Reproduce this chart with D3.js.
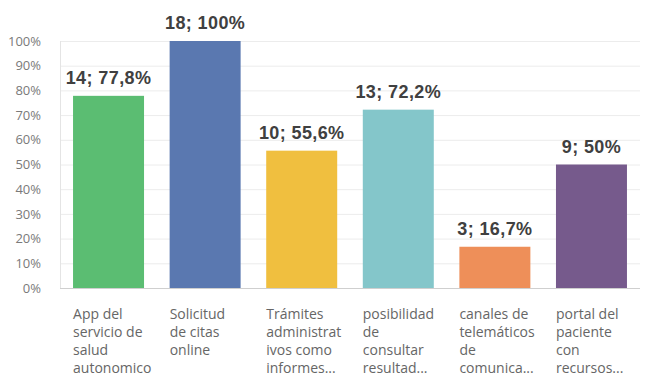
<!DOCTYPE html>
<meta charset="utf-8">
<head>
  <script src="https://d3js.org/d3.v7.min.js"></script>
  <style>
    body { margin: 0; background: #fff; }
    .tick text { font-family: "Open Sans", sans-serif; }
  </style>
</head>
<body>
<div id="chart"></div>
<script>
  // data
  var categories = ["app", "citas", "tramites", "resultados", "canales", "portal"];
  var labelLines = [
    ["App del", "servicio de", "salud", "autonomico"],
    ["Solicitud", "de citas", "online"],
    ["Trámites", "administrat", "ivos como", "informes..."],
    ["posibilidad", "de", "consultar", "resultad..."],
    ["canales de", "telemáticos", "de", "comunica..."],
    ["portal del", "paciente", "con", "recursos..."]
  ];
  var counts = [14, 18, 10, 13, 3, 9];
  var percents = [77.8, 100, 55.6, 72.2, 16.7, 50];
  var percentLabels = ["77,8%", "100%", "55,6%", "72,2%", "16,7%", "50%"];
  var yTicks = [0, 10, 20, 30, 40, 50, 60, 70, 80, 90, 100];
  var colors = ["#5bbd72", "#5a78b0", "#f0bf3f", "#84c6ca", "#ee8f59", "#765a8c"];

  var rows = categories.map(function(c, i) {
    return {key: c, lines: labelLines[i], n: counts[i], pct: percents[i], txt: counts[i] + "; " + percentLabels[i], color: colors[i]};
  });

  var width = 650, height = 386;
  var margin = {top: 41, right: 10, bottom: 98, left: 60};

  var svg = d3.select("#chart").append("svg")
    .attr("width", width)
    .attr("height", height);

  var x = d3.scaleBand()
    .domain(categories)
    .range([margin.left, width - margin.right])
    .paddingInner(0.265)
    .paddingOuter(0.135);

  var y = d3.scaleLinear()
    .domain([0, 100])
    .range([height - margin.bottom, margin.top]);

  // gridlines
  svg.append("g")
    .selectAll("line")
    .data(yTicks.slice(1))
    .enter().append("line")
      .attr("x1", margin.left)
      .attr("x2", width - margin.right)
      .attr("y1", function(d) { return y(d) + 0.5; })
      .attr("y2", function(d) { return y(d) + 0.5; })
      .attr("stroke", "#ececec");

  // left frame line
  svg.append("line")
    .attr("x1", margin.left + 0.5).attr("x2", margin.left + 0.5)
    .attr("y1", y(100)).attr("y2", y(0))
    .attr("stroke", "#e4e4e4");

  // y axis labels
  var yAxis = svg.append("g")
    .attr("transform", "translate(" + 44 + ",0)")
    .call(d3.axisLeft(y).tickValues(yTicks).tickSize(0).tickFormat(function(d) { return d + "%"; }));
  yAxis.select(".domain").remove();
  yAxis.selectAll("text")
    .attr("fill", "#7a7a7a")
    .style("font-size", "13px");

  // bars
  svg.append("g")
    .selectAll("rect")
    .data(rows)
    .enter().append("rect")
      .attr("x", function(d) { return x(d.key); })
      .attr("width", x.bandwidth())
      .attr("y", function(d) { return y(d.pct); })
      .attr("height", function(d) { return y(0) - y(d.pct); })
      .attr("fill", function(d) { return d.color; });

  // baseline
  svg.append("line")
    .attr("x1", margin.left).attr("x2", width - margin.right)
    .attr("y1", y(0) + 0.5).attr("y2", y(0) + 0.5)
    .attr("stroke", "#cfcfcf");

  // value labels
  svg.append("g")
    .selectAll("text")
    .data(rows)
    .enter().append("text")
      .attr("x", function(d) { return x(d.key) + x.bandwidth() / 2; })
      .attr("y", function(d) { return y(d.pct) - 12; })
      .attr("text-anchor", "middle")
      .style("font-family", "'Liberation Sans', Arial, sans-serif")
      .style("font-weight", "bold")
      .style("font-size", "18px")
      .style("letter-spacing", "0.4px")
      .attr("fill", "#404040")
      .text(function(d) { return d.txt; });

  // category labels
  var cat = svg.append("g")
    .selectAll("text")
    .data(rows)
    .enter().append("text")
      .attr("x", function(d) { return x(d.key); })
      .attr("y", 319)
      .style("font-family", "'Open Sans', sans-serif")
      .style("font-size", "14px")
      .attr("fill", "#666");
  cat.selectAll("tspan")
    .data(function(d) { return d.lines.map(function(l) { return {l: l, x: x(d.key)}; }); })
    .enter().append("tspan")
      .attr("x", function(d) { return d.x; })
      .attr("dy", function(d, i) { return i === 0 ? 0 : 18; })
      .text(function(d) { return d.l; });
</script>
</body>
